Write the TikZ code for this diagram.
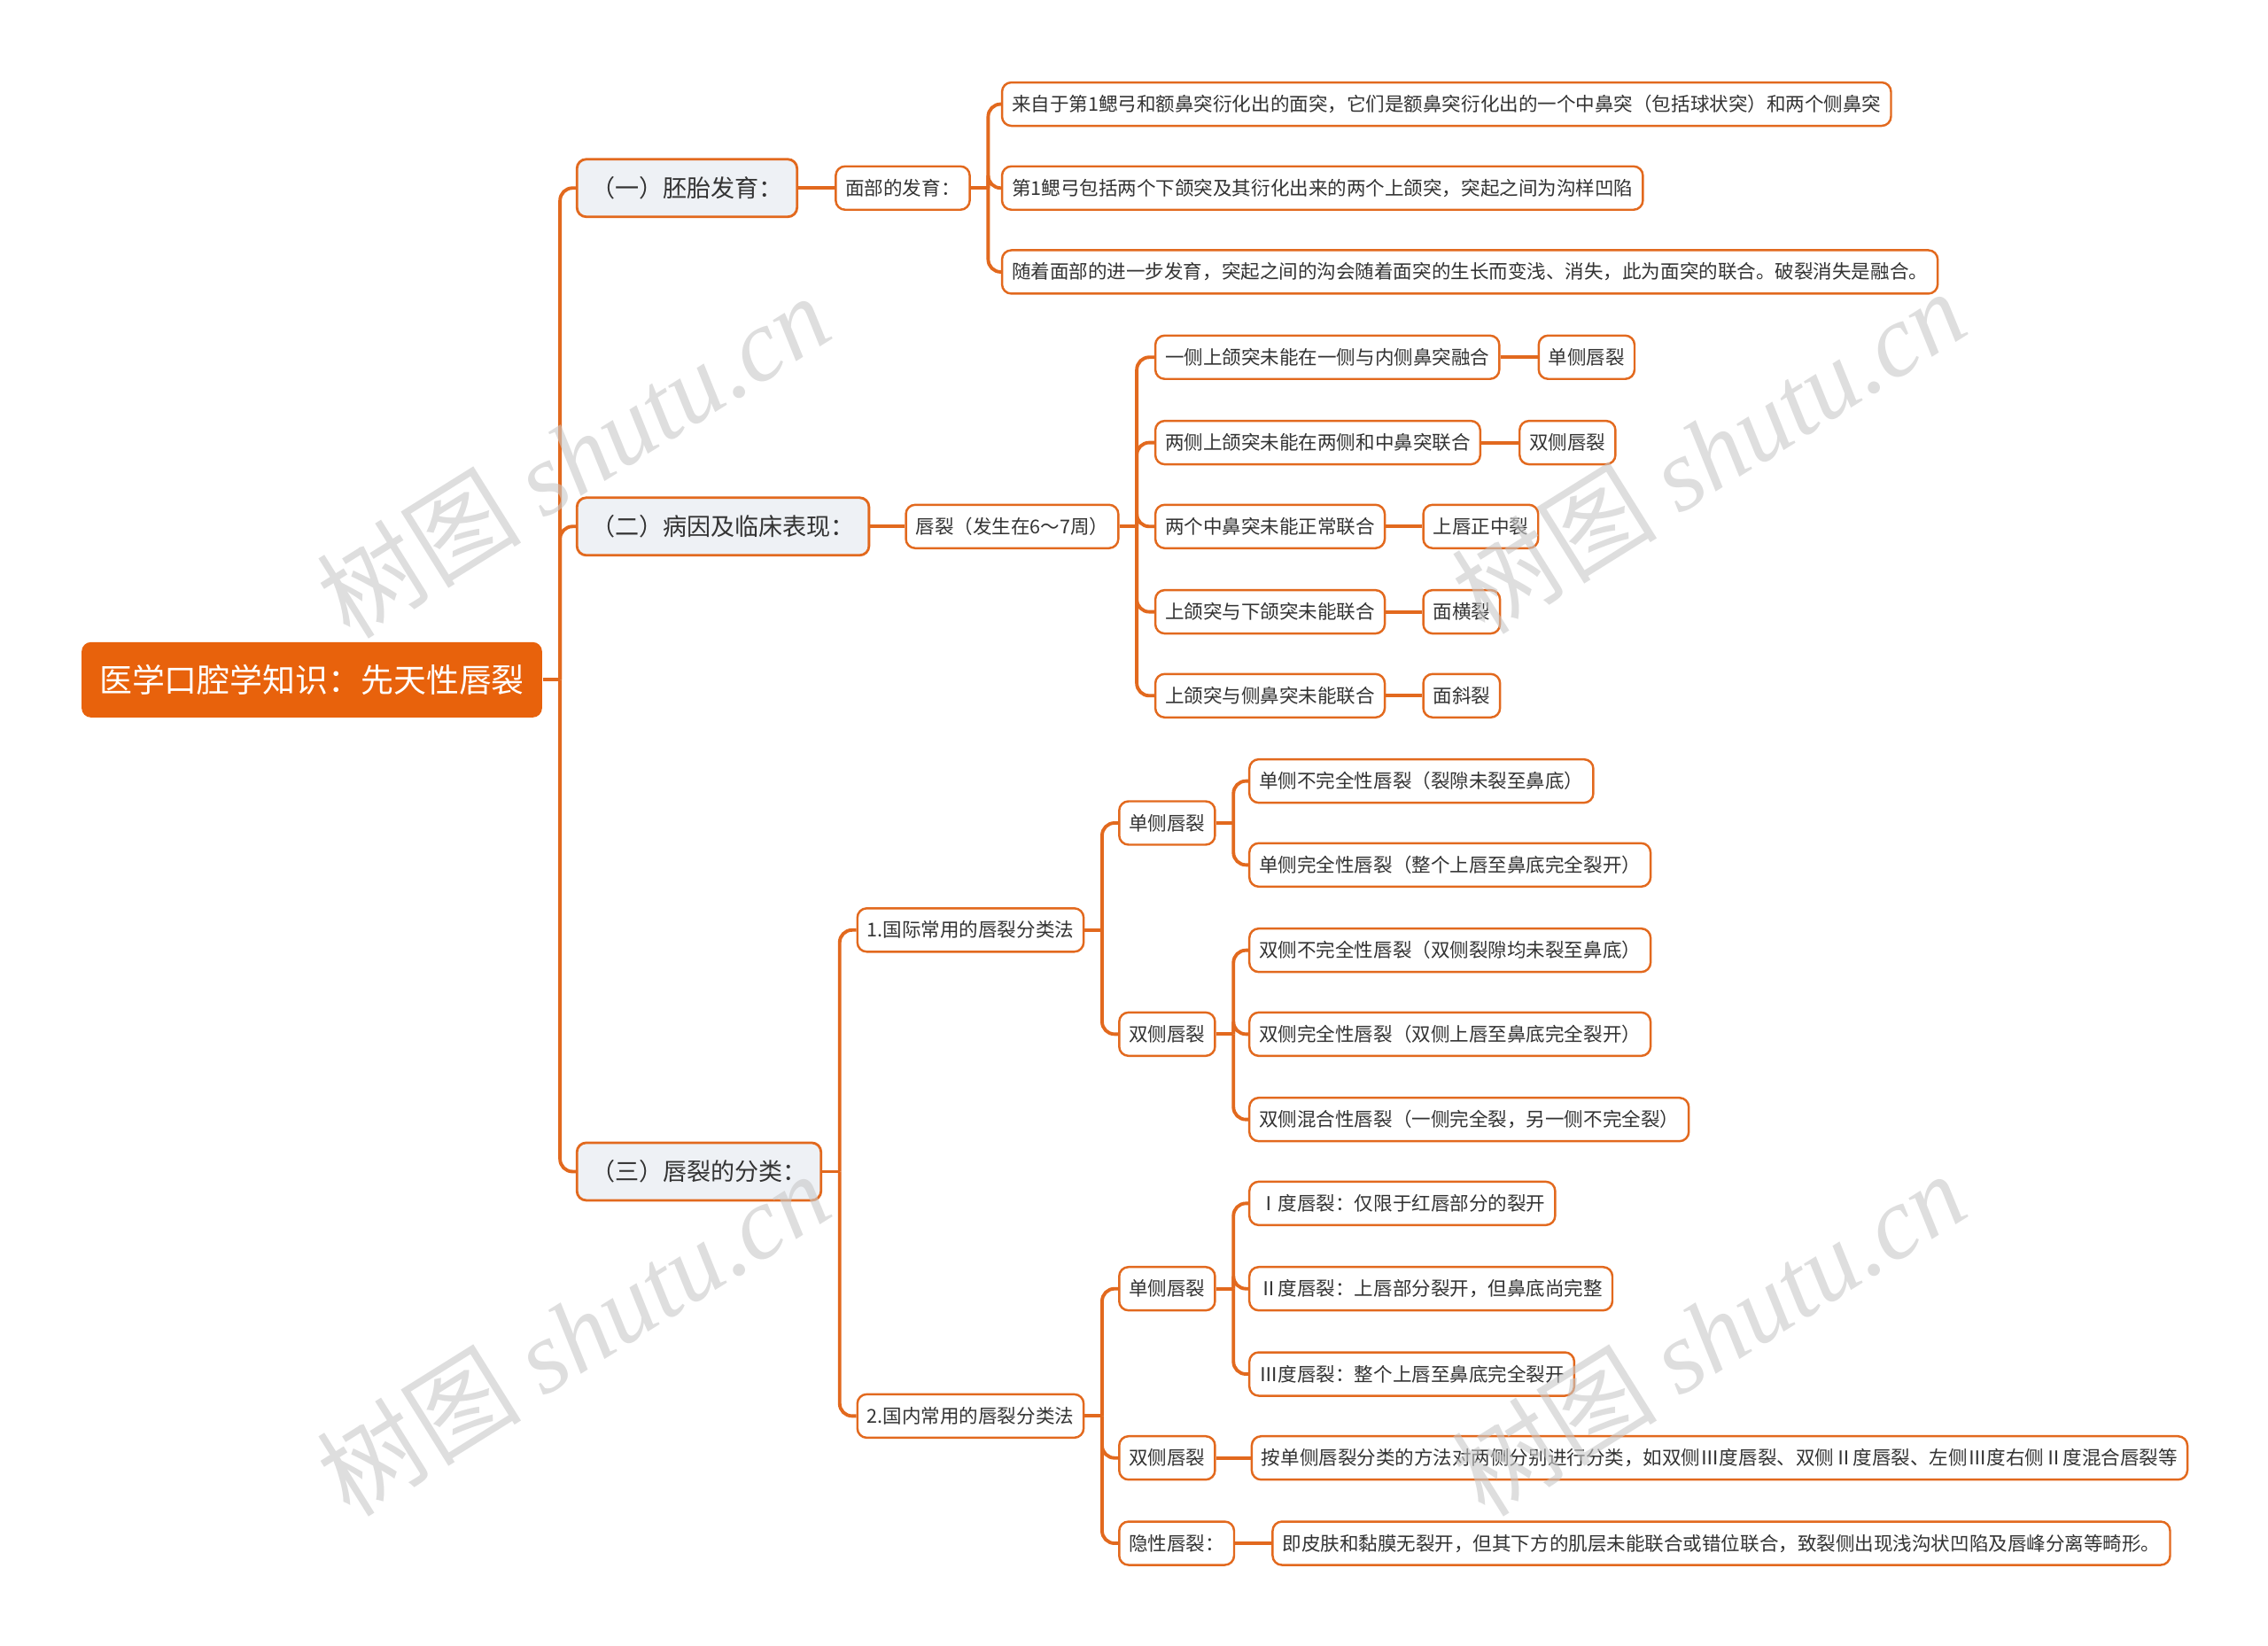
\documentclass[tikz,border=0pt]{standalone}
\usepackage{fontspec}
\setmainfont{Noto Sans CJK SC}
\newfontfamily\wmserif{Liberation Serif}
\usepackage{tikz}
\usetikzlibrary{positioning,calc}
\definecolor{mmorange}{HTML}{E8620C}
\definecolor{mmline}{HTML}{E2691E}
\definecolor{mmgray}{HTML}{EEF1F5}
\definecolor{mmtext}{HTML}{333333}
\definecolor{mmmark}{HTML}{C8C8C8}
\tikzset{
  rootbox/.style={rounded corners=3pt,fill=mmorange,text=white,anchor=west,inner xsep=0.2cm,minimum height=0.85cm,font=\fontsize{10.5}{12}\selectfont},
  topic/.style={rounded corners=3pt,draw=mmline,line width=0.8pt,fill=mmgray,text=mmtext,anchor=west,inner xsep=0.16cm,minimum height=0.65cm,font=\fontsize{7.7}{9}\selectfont},
  leaf/.style={rounded corners=3pt,draw=mmline,line width=0.7pt,fill=white,text=mmtext,anchor=west,inner xsep=0.11cm,minimum height=0.49cm,font=\fontsize{6.13}{7.5}\selectfont},
  link/.style={draw=mmline,line width=1.1pt,rounded corners=4pt},
  wmark/.style={text=mmmark,opacity=0.6,rotate=32,font=\fontsize{33}{35}\selectfont},
}

\begin{document}
\begin{tikzpicture}[x=0.016327cm,y=-0.016327cm]
  \useasboundingbox (0,0) rectangle (1568,1138);

  % root and main topics
  \node[rootbox] (root) at (56,470) {医学口腔学知识：先天性唇裂};
  \node[topic] (embryo) at (398,130) {（一）胚胎发育：};
  \node[topic] (cause) at (398,364) {（二）病因及临床表现：};
  \node[topic] (class) at (398,810) {（三）唇裂的分类：};

  % (一)
  \node[leaf,right=0.41cm of embryo] (face) {面部的发育：};
  \node[leaf] (face1) at (692,72) {来自于第1鳃弓和额鼻突衍化出的面突，它们是额鼻突衍化出的一个中鼻突（包括球状突）和两个侧鼻突};
  \node[leaf] (face2) at (692,130) {第1鳃弓包括两个下颌突及其衍化出来的两个上颌突，突起之间为沟样凹陷};
  \node[leaf] (face3) at (692,188) {随着面部的进一步发育，突起之间的沟会随着面突的生长而变浅、消失，此为面突的联合。破裂消失是融合。};

  % (二)
  \node[leaf,right=0.39cm of cause] (cleft) {唇裂（发生在6～7周）};
  \node[leaf] (why1) at (798,247) {一侧上颌突未能在一侧与内侧鼻突融合};
  \node[leaf] (why2) at (798,306) {两侧上颌突未能在两侧和中鼻突联合};
  \node[leaf] (why3) at (798,364) {两个中鼻突未能正常联合};
  \node[leaf] (why4) at (798,423) {上颌突与下颌突未能联合};
  \node[leaf] (why5) at (798,481) {上颌突与侧鼻突未能联合};
  \node[leaf,right=0.42cm of why1] (res1) {单侧唇裂};
  \node[leaf,right=0.42cm of why2] (res2) {双侧唇裂};
  \node[leaf,right=0.41cm of why3] (res3) {上唇正中裂};
  \node[leaf,right=0.41cm of why4] (res4) {面横裂};
  \node[leaf,right=0.41cm of why5] (res5) {面斜裂};

  % (三) international
  \node[leaf] (intl) at (592,643) {1.国际常用的唇裂分类法};
  \node[leaf] (intlU) at (773,569) {单侧唇裂};
  \node[leaf] (intlB) at (773,715) {双侧唇裂};
  \node[leaf] (intlU1) at (863,540) {单侧不完全性唇裂（裂隙未裂至鼻底）};
  \node[leaf] (intlU2) at (863,598) {单侧完全性唇裂（整个上唇至鼻底完全裂开）};
  \node[leaf] (intlB1) at (863,657) {双侧不完全性唇裂（双侧裂隙均未裂至鼻底）};
  \node[leaf] (intlB2) at (863,715) {双侧完全性唇裂（双侧上唇至鼻底完全裂开）};
  \node[leaf] (intlB3) at (863,774) {双侧混合性唇裂（一侧完全裂，另一侧不完全裂）};

  % (三) domestic
  \node[leaf] (dom) at (592,979) {2.国内常用的唇裂分类法};
  \node[leaf] (domU) at (773,891) {单侧唇裂};
  \node[leaf] (domB) at (773,1008) {双侧唇裂};
  \node[leaf] (domH) at (773,1067) {隐性唇裂：};
  \node[leaf] (domU1) at (863,832) {Ⅰ度唇裂：仅限于红唇部分的裂开};
  \node[leaf] (domU2) at (863,891) {Ⅱ度唇裂：上唇部分裂开，但鼻底尚完整};
  \node[leaf] (domU3) at (863,950) {Ⅲ度唇裂：整个上唇至鼻底完全裂开};
  \node[leaf,right=0.39cm of domB] (domB1) {按单侧唇裂分类的方法对两侧分别进行分类，如双侧Ⅲ度唇裂、双侧Ⅱ度唇裂、左侧Ⅲ度右侧Ⅱ度混合唇裂等};
  \node[leaf,right=0.41cm of domH] (domH1) {即皮肤和黏膜无裂开，但其下方的肌层未能联合或错位联合，致裂侧出现浅沟状凹陷及唇峰分离等畸形。};

  % bus points
  \coordinate (busRoot) at ($(root.east)+(12,0)$);
  \coordinate (busFace) at ($(face.east)+(12,0)$);
  \coordinate (busCleft) at ($(cleft.east)+(12,0)$);
  \coordinate (busClass) at ($(class.east)+(12,0)$);
  \coordinate (busIntl) at ($(intl.east)+(12,0)$);
  \coordinate (busIntlU) at ($(intlU.east)+(12,0)$);
  \coordinate (busIntlB) at ($(intlB.east)+(12,0)$);
  \coordinate (busDom) at ($(dom.east)+(12,0)$);
  \coordinate (busDomU) at ($(domU.east)+(12,0)$);

  % connectors
  \draw[link] (root.east) -- (busRoot);
  \foreach \n in {embryo,cause,class} \draw[link] (busRoot) |- (\n.west);
  \draw[link] (embryo) -- (face);
  \draw[link] (face.east) -- (busFace);
  \foreach \n in {face1,face2,face3} \draw[link] (busFace) |- (\n.west);
  \draw[link] (cause) -- (cleft);
  \draw[link] (cleft.east) -- (busCleft);
  \foreach \n in {1,...,5} {
    \draw[link] (busCleft) |- (why\n.west);
    \draw[link] (why\n) -- (res\n);
  }
  \draw[link] (class.east) -- (busClass);
  \foreach \n in {intl,dom} \draw[link] (busClass) |- (\n.west);
  \draw[link] (intl.east) -- (busIntl);
  \foreach \n in {intlU,intlB} \draw[link] (busIntl) |- (\n.west);
  \draw[link] (intlU.east) -- (busIntlU);
  \foreach \n in {intlU1,intlU2} \draw[link] (busIntlU) |- (\n.west);
  \draw[link] (intlB.east) -- (busIntlB);
  \foreach \n in {intlB1,intlB2,intlB3} \draw[link] (busIntlB) |- (\n.west);
  \draw[link] (dom.east) -- (busDom);
  \foreach \n in {domU,domB,domH} \draw[link] (busDom) |- (\n.west);
  \draw[link] (domU.east) -- (busDomU);
  \foreach \n in {domU1,domU2,domU3} \draw[link] (busDomU) |- (\n.west);
  \draw[link] (domB) -- (domB1);
  \draw[link] (domH) -- (domH1);

  % watermarks
  \node[wmark] (wm1) at (396,315) {树图 {\wmserif\itshape shutu.cn}};
  \node[wmark] (wm2) at (1181,312) {树图 {\wmserif\itshape shutu.cn}};
  \node[wmark] (wm3) at (396,922) {树图 {\wmserif\itshape shutu.cn}};
  \node[wmark] (wm4) at (1181,922) {树图 {\wmserif\itshape shutu.cn}};
\end{tikzpicture}
\end{document}
